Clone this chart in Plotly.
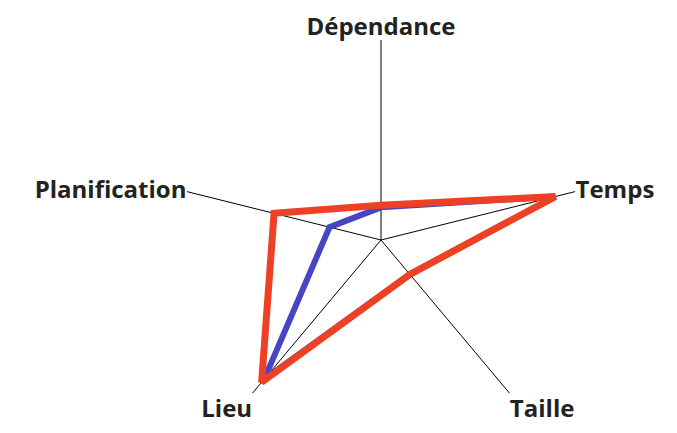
import plotly.graph_objects as go

### Data ###
axes        = ["Dépendance", "Temps", "Taille", "Lieu", "Planification"]
axisAngles  = [90, 14, 310, 230, 166]          # spokes are not evenly spaced
redValues   = [0.17, 0.88, 0.22, 0.91, 0.54]
blueValues  = [0.16, 0.88, 0.22, 0.89, 0.26]

redColor  = '#EE4024'
blueColor = '#4646C4'

fig = go.Figure()

# blue first, red on top
for vals, c, w in [(blueValues, blueColor, 6), (redValues, redColor, 7)]:
    fig.add_trace(go.Scatterpolar(
        r          = vals + vals[:1],
        theta      = axisAngles + axisAngles[:1],
        mode       = 'lines',
        line       = dict(color=c, width=w),
        showlegend = False,
    ))

# page body has an 8px margin, so the circle is placed 8px left of the target
fig.update_layout(
    width=677, height=433,
    margin=dict(l=0, r=0, t=0, b=0),
    paper_bgcolor='white',
    polar=dict(
        domain=dict(x=[173/677, 573/677], y=[1/433, 401/433]),
        bgcolor='white',
        radialaxis=dict(visible=False, range=[0, 0.98], showgrid=False),
        angularaxis=dict(
            thetaunit='degrees', direction='counterclockwise', rotation=0,
            tickmode='array', tickvals=axisAngles, ticktext=axes,
            showline=False, showgrid=True, gridcolor='black', gridwidth=1.3,
            ticks='',
            tickfont=dict(family='Open Sans', size=24, color='#222222', weight='bold'),
        ),
    ),
)

fig.write_html("out.html")
